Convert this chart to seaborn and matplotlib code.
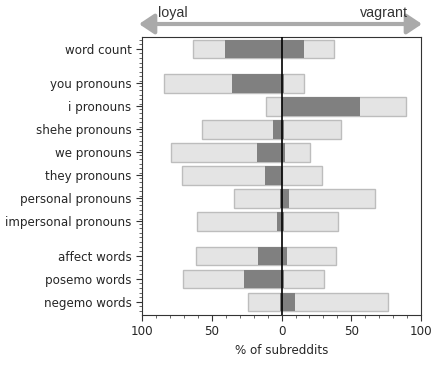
import seaborn as sns
import pandas as pd
import matplotlib
import matplotlib.pyplot as plt
import numpy as np
from matplotlib.ticker import MultipleLocator, FuncFormatter
matplotlib.use('Agg')

# categories, with the gaps between the groups
cats = ["word count", "you pronouns", "i pronouns", "shehe pronouns", "we pronouns",
        "they pronouns", "personal pronouns", "impersonal pronouns",
        "affect words", "posemo words", "negemo words"]
pos = [0, 1.5, 2.5, 3.5, 4.5, 5.5, 6.5, 7.5, 9, 10, 11]

# % of subreddits, all (light) and significant (dark)
loyal_all = [63.5, 84.4, 11.0, 57.1, 79.4, 71.5, 34.1, 60.7, 61.4, 70.7, 24.0]
vagrant_all = [37.4, 16.3, 89.2, 42.9, 20.6, 28.8, 66.9, 40.3, 39.3, 30.2, 76.3]
loyal_sig = [40.8, 35.7, 0.0, 6.2, 17.7, 12.0, 1.0, 3.4, 17.0, 27.1, 1.0]
vagrant_sig = [16.1, 1.4, 56.4, 1.4, 2.4, 0.0, 5.3, 1.4, 3.8, 1.4, 9.6]

df = pd.DataFrame({"cat": cats, "pos": pos,
                   "loyal_all": -np.array(loyal_all), "vagrant_all": vagrant_all,
                   "loyal_sig": -np.array(loyal_sig), "vagrant_sig": vagrant_sig})

sns.set_style("ticks")
plt.rcParams['font.family'] = ['DejaVu Sans']
fs = 8.6

fig = plt.figure(figsize=(4.48, 3.65), dpi=100)
ax = fig.add_axes([0.317, 0.137, 0.623, 0.762])

light = "#e4e4e4"
edge = "#bdbdbd"
dark = "#808080"
for col in ["loyal_all", "vagrant_all"]:
    sns.barplot(data=df, x=col, y="pos", orient="y", native_scale=True, color=light,
                saturation=1, edgecolor=edge, linewidth=1, errorbar=None, ax=ax)
for col in ["loyal_sig", "vagrant_sig"]:
    sns.barplot(data=df, x=col, y="pos", orient="y", native_scale=True, color=dark,
                saturation=1, linewidth=0, errorbar=None, ax=ax)
ax.axvline(0, color="black", lw=1.2, zorder=5)

ax.set_xlim(-100, 100)
ax.set_ylim(11.57, -0.52)
ax.set_yticks(pos)
ax.set_yticklabels(cats)
ax.yaxis.set_minor_locator(MultipleLocator(0.2))
ax.set_xticks([-100, -50, 0, 50, 100])
ax.xaxis.set_major_formatter(FuncFormatter(lambda v, p: "%d" % abs(v)))
ax.xaxis.set_minor_locator(MultipleLocator(10))
ax.tick_params(axis='both', which='major', labelsize=fs, length=4, width=0.8,
               colors='.2', labelcolor='#262626')
ax.tick_params(axis='both', which='minor', length=2, width=0.6, colors='.3')
ax.set_xlabel("% of subreddits", fontsize=fs, color='#262626')
ax.set_ylabel("")
for s in ax.spines.values():
    s.set_visible(True)
    s.set_color('.2')
    s.set_linewidth(0.8)

# loyal <-> vagrant arrow above the plot
ax.annotate("", xy=(139, 365 - 24), xytext=(422, 365 - 24), xycoords='figure pixels',
            textcoords='figure pixels',
            arrowprops=dict(arrowstyle="<|-|>,head_length=0.9,head_width=0.6",
                            mutation_scale=10, lw=3, color="#aaaaaa",
                            shrinkA=0, shrinkB=0))
fig.text(158 / 448, 1 - 13 / 365, "loyal", ha="left", va="center",
         fontsize=10.3, family="Liberation Sans", color="#333333")
fig.text(408 / 448, 1 - 13 / 365, "vagrant", ha="right", va="center",
         fontsize=10.3, family="Liberation Sans", color="#333333")

fig.savefig("out.png", dpi=100)
